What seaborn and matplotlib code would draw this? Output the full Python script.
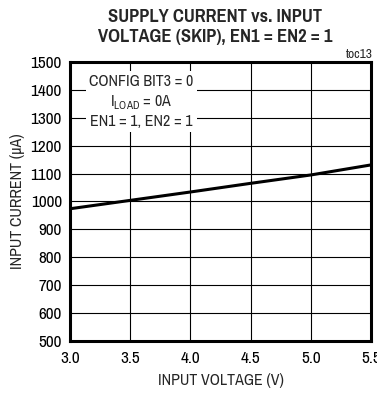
import matplotlib
matplotlib.use("Agg")
import matplotlib.pyplot as plt
import seaborn as sns
import pandas as pd

# values
voltage = [3.0, 3.5, 4.0, 4.5, 5.0, 5.5]
current = [974, 1004, 1034, 1065, 1095, 1131]
x_ticks = [3.0, 3.5, 4.0, 4.5, 5.0, 5.5]
y_ticks = list(range(500, 1501, 100))

sns.set_style("white")
plt.rcParams['font.family'] = ['Pragati Narrow', 'DejaVu Sans']
plt.rcParams['mathtext.fontset'] = 'custom'
plt.rcParams['mathtext.rm'] = 'Pragati Narrow'

df = pd.DataFrame({'v': voltage, 'i': current})

fig = plt.figure(figsize=(3.77, 3.97), dpi=100)
ax = fig.add_axes([0.186, 0.141, 0.798, 0.703])

sns.lineplot(data=df, x='v', y='i', ax=ax, color='black', linewidth=2.2, zorder=3)

ax.set_xlim(3.0, 5.5)
ax.set_ylim(500, 1500)
ax.set_xticks(x_ticks)
ax.set_xticklabels([f'{t:.1f}' for t in x_ticks])
ax.set_yticks(y_ticks)
ax.grid(True, color='black', linewidth=0.8)
ax.tick_params(axis='both', length=0, labelsize=13.5, colors='black')
ax.tick_params(axis='x', pad=7)
ax.tick_params(axis='y', pad=6)
for s in ax.spines.values():
    s.set_linewidth(2.2)
    s.set_color('black')

ax.set_xlabel('INPUT VOLTAGE (V)', fontsize=12.5, labelpad=5)
ax.set_ylabel('INPUT CURRENT (µA)', fontsize=12.5, labelpad=4)

fig.text(0.57, 0.978, 'SUPPLY CURRENT vs. INPUT\nVOLTAGE (SKIP), EN1 = EN2 = 1',
         ha='center', va='top', fontsize=14.5, fontweight='bold', linespacing=1.3)
fig.text(0.988, 0.849, 'toc13', ha='right', va='bottom', fontsize=10.5)

ax.text(0.237, 0.955, 'CONFIG BIT3 = 0\nI$_{\\mathrm{LOAD}}$ = 0A\nEN1 = 1, EN2 = 1',
        transform=ax.transAxes, ha='center', va='top', fontsize=12.5,
        linespacing=1.25, zorder=4,
        bbox=dict(facecolor='white', edgecolor='none', pad=2.5))

fig.savefig('out.png', dpi=100)
